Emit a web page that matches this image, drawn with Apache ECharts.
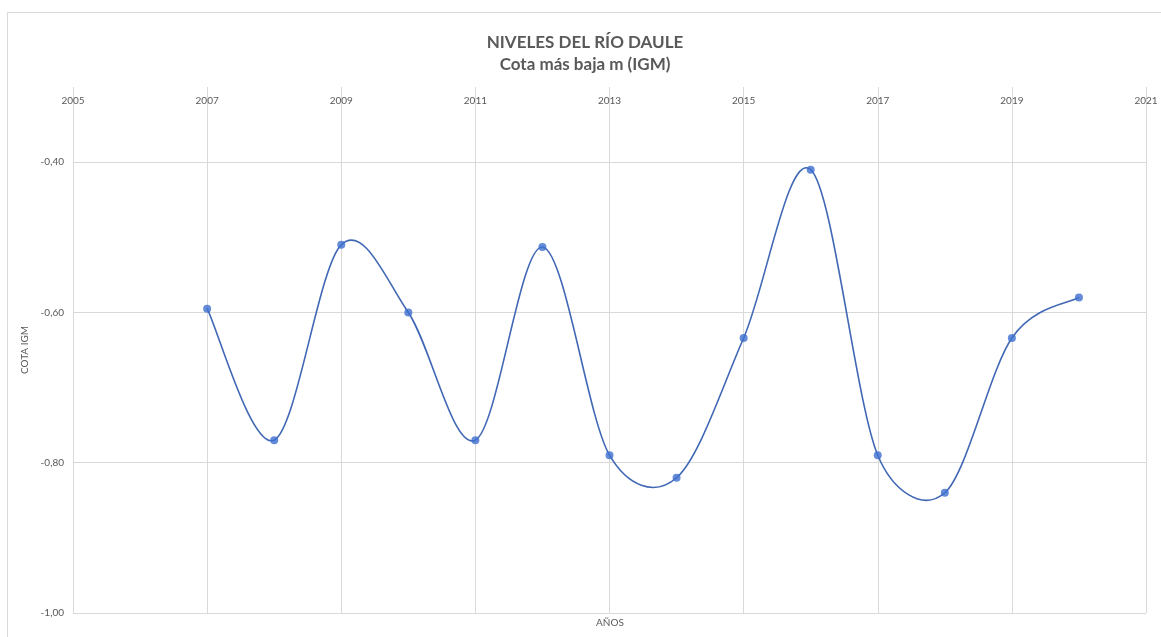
<!DOCTYPE html>
<html>
<head>
<meta charset="utf-8">
<script src="https://cdn.jsdelivr.net/npm/echarts@6/dist/echarts.min.js"></script>
<style>html,body{margin:0;padding:0;background:#fff;}#c{width:1161px;height:637px;}</style>
</head>
<body>
<div id="c"></div>
<script>
const years = [2007, 2008, 2009, 2010, 2011, 2012, 2013, 2014, 2015, 2016, 2017, 2018, 2019, 2020];
const cota = [-0.595, -0.77, -0.51, -0.60, -0.77, -0.513, -0.79, -0.82, -0.634, -0.41, -0.79, -0.84, -0.634, -0.58];
const titleText = 'NIVELES DEL RÍO DAULE';
const subtitleText = 'Cota más baja m (IGM)';
const yAxisName = 'COTA IGM';
const xAxisName = 'AÑOS';

const FONT = 'Lato, "Open Sans", sans-serif';
const GREY = '#595959';
const GRID = '#d9d9d9';
const LINE = '#4168b5';
const DOT = '#3d6fcf';

const points = years.map((y, i) => [y, cota[i]]);

// Excel-style smoothed segment between data points i and i+1,
// positioned through the chart's own coordinate system.
function renderSegment(params, api) {
  const i = params.dataIndex;
  if (i >= points.length - 1) return null;
  const p = k => api.coord(points[Math.max(0, Math.min(points.length - 1, k))]);
  const p0 = p(i - 1), p1 = p(i), p2 = p(i + 1), p3 = p(i + 2);
  const dist = (a, b) => Math.hypot(a[0] - b[0], a[1] - b[1]);
  const d12 = dist(p1, p2), d02 = dist(p0, p2), d13 = dist(p1, p3);
  let f0 = 1 / 6, f1 = 1 / 6;
  if (d02 / 6 >= d12 / 2 && d02 > 0) f0 = d12 / 2 / d02;
  if (d13 / 6 >= d12 / 2 && d13 > 0) f1 = d12 / 2 / d13;
  const c1 = [p1[0] + (p2[0] - p0[0]) * f0, p1[1] + (p2[1] - p0[1]) * f0];
  const c2 = [p2[0] - (p3[0] - p1[0]) * f1, p2[1] - (p3[1] - p1[1]) * f1];
  return {
    type: 'bezierCurve',
    shape: {x1: p1[0], y1: p1[1], cpx1: c1[0], cpy1: c1[1], cpx2: c2[0], cpy2: c2[1], x2: p2[0], y2: p2[1]},
    style: {stroke: LINE, lineWidth: 1.6, fill: null}
  };
}

const chart = echarts.init(document.getElementById('c'), null, {renderer: 'canvas'});
chart.setOption({
  animation: false,
  backgroundColor: '#fff',
  title: {
    text: titleText + '\n' + subtitleText,
    left: 580, top: 27, textAlign: 'center',
    textStyle: {fontFamily: FONT, fontWeight: 'bold', fontSize: 17, color: GREY, lineHeight: 22}
  },
  graphic: [
    {type: 'rect', shape: {x: 7.5, y: 12.5, width: 1170, height: 640}, style: {fill: 'none', stroke: GRID, lineWidth: 1}, silent: true},
    {type: 'text', x: 610, y: 623, style: {text: xAxisName, font: '10px ' + FONT, fill: GREY, textAlign: 'center', textVerticalAlign: 'middle'}, silent: true}
  ],
  grid: {left: 73, right: 15, top: 87, bottom: 24, containLabel: false},
  xAxis: {
    type: 'value', position: 'top', min: 2005, max: 2021, interval: 2,
    axisLine: {show: false}, axisTick: {show: false},
    axisLabel: {inside: true, margin: 9, color: GREY, fontFamily: FONT, fontSize: 10, formatter: v => String(v)},
    splitLine: {show: true, lineStyle: {color: GRID, width: 1}}
  },
  yAxis: {
    type: 'value', min: -1.0, max: -0.3, interval: 0.2,
    name: yAxisName, nameLocation: 'middle', nameGap: 41, nameRotate: 90,
    nameTextStyle: {fontFamily: FONT, fontSize: 10, color: GREY},
    axisLine: {show: false}, axisTick: {show: false},
    axisLabel: {showMaxLabel: false, margin: 9, color: GREY, fontFamily: FONT, fontSize: 10,
      formatter: v => v.toFixed(2).replace('.', ',')},
    splitLine: {show: true, showMaxLine: false, lineStyle: {color: GRID, width: 1}}
  },
  series: [
    {
      type: 'custom',
      data: points,
      renderItem: renderSegment,
      clip: false,
      silent: true,
      z: 2
    },
    {
      type: 'scatter',
      data: points,
      symbol: 'circle', symbolSize: 8,
      itemStyle: {color: DOT},
      z: 3
    }
  ]
});
</script>
</body>
</html>
